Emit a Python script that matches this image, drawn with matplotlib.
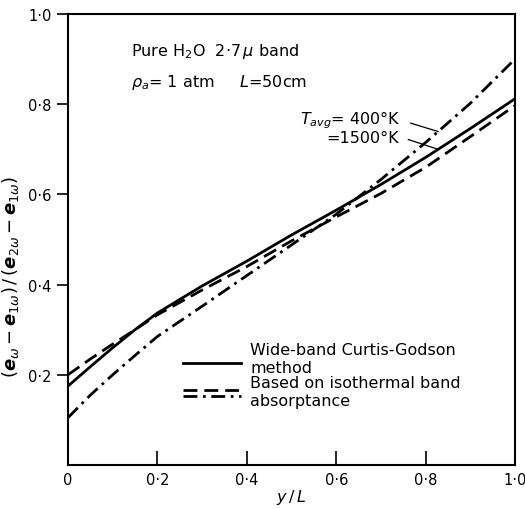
import numpy as np
import matplotlib
matplotlib.use("Agg")
import matplotlib.pyplot as plt
from matplotlib.lines import Line2D
from matplotlib.legend_handler import HandlerBase

# ---- data ----
y_over_L = [0.0, 0.05, 0.1, 0.15, 0.2, 0.3, 0.4, 0.5, 0.6, 0.7, 0.8, 0.9, 1.0]
curtis_godson = [0.175, 0.218, 0.260, 0.300, 0.337, 0.397, 0.452, 0.510, 0.565,
                 0.622, 0.682, 0.746, 0.812]
iso_1500 = [0.200, 0.235, 0.268, 0.300, 0.333, 0.388, 0.440, 0.497, 0.550,
            0.602, 0.660, 0.728, 0.797]
iso_400 = [0.105, 0.155, 0.200, 0.243, 0.285, 0.352, 0.420, 0.488, 0.556,
           0.633, 0.715, 0.802, 0.900]

xticks = [0, 0.2, 0.4, 0.6, 0.8, 1.0]
xticklabels = ["0", "0·2", "0·4", "0·6", "0·8", "1·0"]
yticks = [0.2, 0.4, 0.6, 0.8, 1.0]
yticklabels = ["0·2", "0·4", "0·6", "0·8", "1·0"]

plt.rcParams['font.family'] = ['DejaVu Sans']
plt.rcParams['mathtext.fontset'] = 'dejavusans'

fig = plt.figure(figsize=(5.25, 5.10), dpi=100)
ax = fig.add_axes([68/525, 44/510, 447/525, 451/510])

lw = 2.0
ls_solid = '-'
ls_dash = (0, (5, 2.5))
ls_dd = (0, (5, 2, 1, 2))
ax.plot(y_over_L, curtis_godson, color='black', lw=lw, ls=ls_solid)
ax.plot(y_over_L, iso_1500, color='black', lw=lw, ls=ls_dash)
ax.plot(y_over_L, iso_400, color='black', lw=lw, ls=ls_dd)

ax.set_xlim(0, 1.0)
ax.set_ylim(0, 1.0)
ax.set_xticks(xticks)
ax.set_xticklabels(xticklabels, fontsize=10.5)
ax.set_yticks(yticks)
ax.set_yticklabels(yticklabels, fontsize=10.5)
ax.tick_params(axis='x', direction='in', length=10, width=1.2, pad=5)
ax.tick_params(axis='y', direction='out', length=8, width=1.2, pad=4)
for s in ax.spines.values():
    s.set_linewidth(1.5)

ax.set_xlabel(r"$y\,/\,L$", fontsize=11.5, labelpad=0)
ax.set_ylabel(r"$(\boldsymbol{e}_\omega-\boldsymbol{e}_{1\omega})\,/\,(\boldsymbol{e}_{2\omega}-\boldsymbol{e}_{1\omega})$",
              fontsize=13)
ax.yaxis.set_label_coords(-0.105, 0.42)

ax.text(0.14, 0.918, "Pure H$_2$O  2·7$\\,\\mu$ band", transform=ax.transAxes,
        fontsize=11.5, ha='left', va='center')
ax.text(0.14, 0.851, "$\\rho_a$= 1 atm     $L$=50cm", transform=ax.transAxes,
        fontsize=11.5, ha='left', va='center')

# annotations
xa = 0.828
ax.annotate("$T_{avg}$= 400°K", xy=(xa, np.interp(xa, y_over_L, iso_400)),
            xytext=(0.745, 0.767), fontsize=11.5, ha='right', va='center',
            arrowprops=dict(arrowstyle='-', color='black', lw=0.9,
                            relpos=(1.0, 0.45), shrinkA=5, shrinkB=0))
ax.annotate("=1500°K", xy=(xa, np.interp(xa, y_over_L, curtis_godson)),
            xytext=(0.74, 0.727), fontsize=11.5, ha='right', va='center',
            arrowprops=dict(arrowstyle='-', color='black', lw=0.9,
                            relpos=(1.0, 0.55), shrinkA=5, shrinkB=0))


class OffsetLinesHandler(HandlerBase):
    def __init__(self, offsets, **kw):
        super().__init__(**kw)
        self.offsets = offsets

    def create_artists(self, legend, orig_handle, xdescent, ydescent, width,
                       height, fontsize, trans):
        handles = orig_handle if isinstance(orig_handle, tuple) else (orig_handle,)
        y0 = height / 2 - ydescent
        artists = []
        for h, off in zip(handles, self.offsets):
            l = Line2D([-xdescent, width - xdescent], [y0 + off, y0 + off])
            l.update_from(h)
            l.set_transform(trans)
            artists.append(l)
        return artists


h_solid = Line2D([], [], color='black', lw=lw, ls=ls_solid)
h_dash = Line2D([], [], color='black', lw=lw, ls=ls_dash)
h_dd = Line2D([], [], color='black', lw=lw, ls=ls_dd)

leg = ax.legend([h_solid, (h_dash, h_dd)],
                ["Wide-band Curtis-Godson\nmethod",
                 "Based on isothermal band\nabsorptance"],
                handler_map={Line2D: OffsetLinesHandler([-3.0]),
                             tuple: OffsetLinesHandler([1.5, -3.0])},
                loc='upper left', bbox_to_anchor=(0.24, 0.29),
                frameon=False, fontsize=11.5, handlelength=3.6,
                handletextpad=0.6, labelspacing=0.05, borderpad=0)

fig.savefig("out.png", dpi=100)
